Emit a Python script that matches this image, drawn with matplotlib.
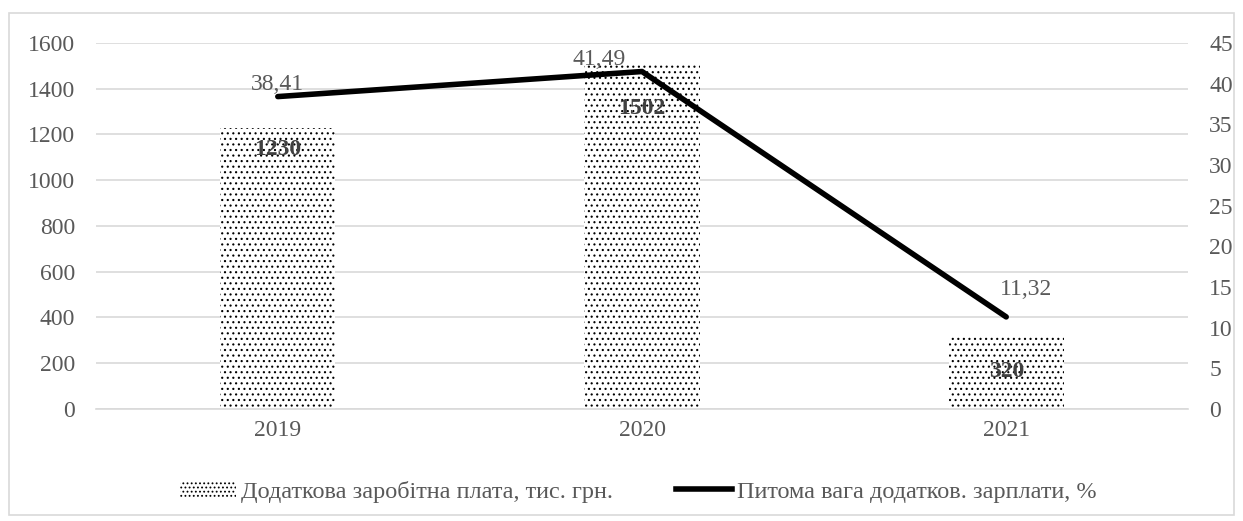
import matplotlib.pyplot as plt
from matplotlib.patches import Rectangle

plt.rcParams['font.family'] = ['Liberation Serif', 'DejaVu Serif']
plt.rcParams['hatch.linewidth'] = 0.8

years = ['2019', '2020', '2021']
salary = [1230, 1502, 320]
share = [38.41, 41.49, 11.32]
share_labels = ['38,41', '41,49', '11,32']

grey = '#595959'

fig = plt.figure(figsize=(12.43, 5.21), dpi=100)
ax = fig.add_axes([0.077, 0.215, 0.879, 0.7025])
ax2 = ax.twinx()

x = list(range(len(years)))
ax.bar(x, salary, width=0.316, facecolor='white', edgecolor='black',
       linewidth=0, hatch='...', zorder=2)
bar_offsets = [-16, -31, -26]
for xi, v, dy in zip(x, salary, bar_offsets):
    ax.annotate(str(v), (xi, v), xytext=(0, dy), textcoords='offset points',
                ha='center', va='center', fontsize=17, fontweight='bold', color='#404040')

ax2.plot(x, share, color='black', linewidth=4, solid_capstyle='round', zorder=3)
offsets = [(0, 9), (-31, 9), (14, 19.5)]
for xi, v, lab, off in zip(x, share, share_labels, offsets):
    ax2.annotate(lab, (xi, v), xytext=off, textcoords='offset points',
                 ha='center', va='center', fontsize=17, color=grey)

ax.set_xlim(-0.5, 2.5)
ax.set_ylim(0, 1600)
ax.set_yticks(range(0, 1601, 200))
ax2.set_ylim(0, 45)
ax2.set_yticks(range(0, 46, 5))
ax.set_xticks(x)
ax.set_xticklabels(years)

ax.grid(axis='y', color='#d9d9d9', linewidth=1.2, zorder=0)
ax.set_axisbelow(True)
for a in (ax, ax2):
    for s in a.spines.values():
        s.set_visible(False)
    a.tick_params(length=0, labelsize=17, labelcolor=grey, pad=15)
ax.tick_params(axis='x', pad=8)
ax.spines['bottom'].set_visible(True)
ax.spines['bottom'].set_color('#d9d9d9')
ax.spines['bottom'].set_linewidth(1.2)

h1 = Rectangle((0, 0), 1, 1, facecolor='white', edgecolor='black', linewidth=0, hatch='....')
h2 = plt.Line2D([], [], color='black', linewidth=4)
fig.legend([h1, h2], ['Додаткова заробітна плата, тис. грн.', 'Питома вага додатков. зарплати, %'],
           loc='center left', bbox_to_anchor=(0.145, 0.056), ncol=2, frameon=False,
           fontsize=17.5, labelcolor=grey, handlelength=2.3, handletextpad=0.2,
           columnspacing=2.6, borderpad=0, borderaxespad=0)

fig.patches.append(Rectangle((0.007, 0.012), 0.986, 0.963, transform=fig.transFigure,
                             fill=False, edgecolor='#d9d9d9', linewidth=1.2))

fig.savefig('out.png', dpi=100)
